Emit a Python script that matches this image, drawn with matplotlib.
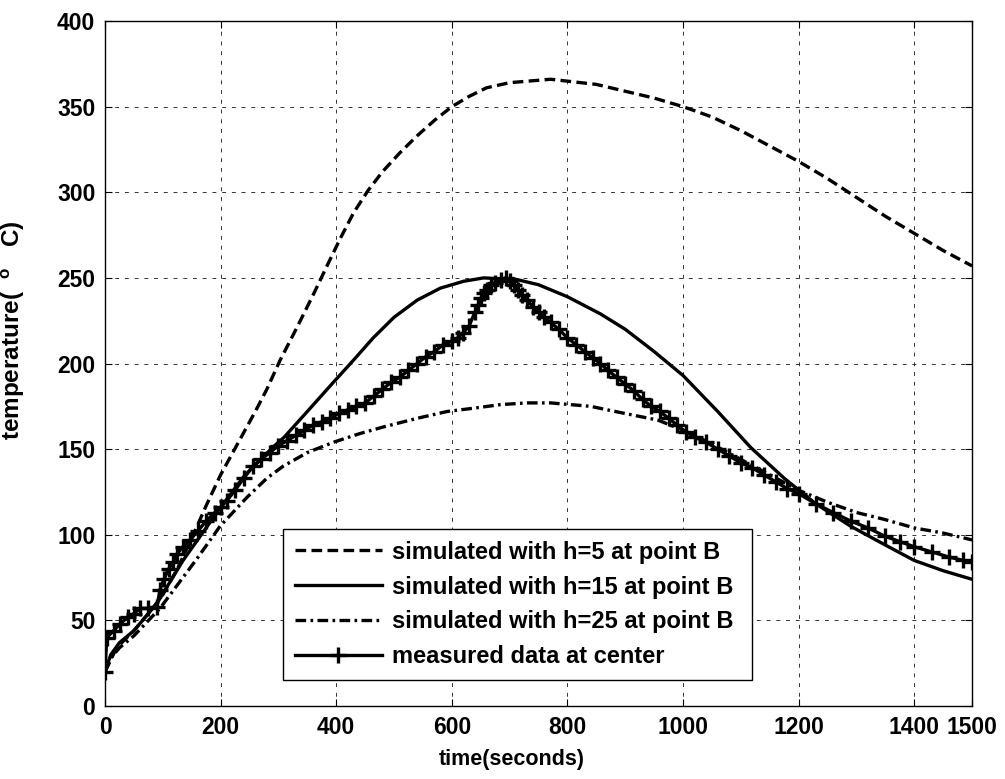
import matplotlib
matplotlib.use("Agg")
import matplotlib.pyplot as plt

plt.rcParams['font.family'] = ['Liberation Sans', 'DejaVu Sans']
plt.rcParams['mathtext.fontset'] = 'custom'
plt.rcParams['mathtext.rm'] = 'Liberation Sans:bold'
plt.rcParams['mathtext.it'] = 'Liberation Sans:bold'
plt.rcParams['mathtext.default'] = 'rm'

# simulated, h=5 at point B
t_h5 = [0, 20, 50, 80, 100, 125, 150, 175, 200, 234, 260, 280, 303, 332, 360,
        384, 407, 430, 455, 480, 510, 540, 570, 600, 630, 660, 700, 771, 797,
        850, 900, 950, 1000, 1050, 1100, 1150, 1200, 1250, 1300, 1350, 1400,
        1450, 1500]
temp_h5 = [20, 34, 44, 56, 65, 80, 98, 117, 135, 156, 172, 185, 202, 221, 240,
           257, 273, 288, 301, 312, 323, 333, 342, 350, 356, 361, 364, 366, 365,
           363, 359, 355, 350, 344, 336, 327, 318, 308, 297, 286, 276,
           266, 257]

# simulated, h=15 at point B
t_h15 = [0, 10, 25, 50, 90, 135, 200, 240, 290, 310, 350, 395, 430, 464, 500,
         540, 580, 620, 655, 713, 750, 800, 857, 900, 950, 1000, 1060, 1117,
         1175, 1230, 1290, 1350, 1400, 1450, 1500]
temp_h15 = [20, 30, 37, 44, 60, 85, 116, 134, 151, 157, 172, 189, 202, 215, 227,
            237, 244, 248, 250, 249, 246, 239, 229, 220, 207, 193, 172, 151,
            133, 118, 105, 94, 85, 79, 74]

# simulated, h=25 at point B
t_h25 = [0, 10, 25, 50, 95, 159, 199, 246, 280, 308, 350, 395, 440, 482, 540,
         592, 640, 684, 730, 771, 840, 897, 956, 1001, 1050, 1100, 1150, 1200,
         1250, 1300, 1348, 1400, 1450, 1500]
temp_h25 = [20, 28, 34, 41, 57, 86, 105, 122, 133, 140, 148, 154, 159, 163, 168,
            172, 174, 176, 177, 177, 175, 171, 167, 161, 153, 144, 135, 126,
            119, 113, 109, 104, 101, 97]

# measured data at center
t_meas = [0, 3, 15, 26, 40, 50, 61, 75, 90, 95, 102, 110, 118, 125, 135, 147,
          160, 175, 190, 200, 211, 225, 240, 256, 270, 285, 300, 315, 330, 345,
          360, 375, 390, 405, 420, 435, 450, 465, 480, 495, 510, 525, 540, 555,
          570, 585, 600, 610, 620, 630, 640, 645, 650, 655, 660, 668, 675, 685,
          693, 700, 707, 715, 722, 730, 741, 750, 760, 771, 785, 800, 815, 830,
          845, 857, 870, 885, 900, 915, 930, 945, 960, 975, 990, 1005, 1020,
          1040, 1060, 1080, 1100, 1120, 1140, 1160, 1180, 1200, 1230, 1260,
          1290, 1320, 1350, 1375, 1400, 1430, 1460, 1485, 1500]
temp_meas = [20, 40, 44, 48, 52, 54, 57, 57, 58, 68, 74, 80, 84, 89, 93, 97,
             102, 108, 113, 116, 120, 126, 133, 140, 144, 148, 152, 155, 158, 161,
             164, 166, 168, 171, 173, 175, 177, 181, 185, 189, 192, 196, 200, 204,
             207, 211, 213, 215, 218, 222, 230, 234, 238, 241, 243, 246, 247, 249,
             250, 248, 246, 243, 240, 237, 233, 230, 227, 224, 220, 215, 211, 207,
             203, 200, 196, 192, 188, 184, 179, 175, 172, 168, 164, 160, 157,
             154, 150, 146, 142, 139, 135, 131, 127, 124, 118, 113,
             108, 104, 99, 96, 93, 90, 87, 85, 84]

x_ticks = [0, 200, 400, 600, 800, 1000, 1200, 1400, 1500]
y_ticks = [0, 50, 100, 150, 200, 250, 300, 350, 400]

fig = plt.figure(figsize=(10.05, 7.79), dpi=100)
ax = fig.add_axes([0.1045, 0.0937, 0.8627, 0.8793])

lw = 2.4
ax.plot(t_h5, temp_h5, color='k', lw=lw, linestyle=(0, (3.2, 1.6)),
        label='simulated with h=5 at point B')
ax.plot(t_h15, temp_h15, color='k', lw=lw, linestyle='-',
        label='simulated with h=15 at point B')
ax.plot(t_h25, temp_h25, color='k', lw=lw, linestyle=(0, (3.2, 1.3, 0.8, 1.3)),
        label='simulated with h=25 at point B')
ax.plot(t_meas, temp_meas, color='k', lw=lw, marker='+', markersize=11,
        markeredgewidth=2.4, label='measured data at center')

ax.set_xlim(0, 1500)
ax.set_ylim(0, 400)
ax.set_xticks(x_ticks)
ax.set_yticks(y_ticks)
ax.tick_params(direction='in', length=5, width=0.8, labelsize=16.5,
               top=True, right=True, pad=7)
for lab in ax.get_xticklabels() + ax.get_yticklabels():
    lab.set_fontweight('bold')

ax.grid(True, color='0.2', linestyle=(0, (4, 6)), linewidth=0.7)
for sp in ax.spines.values():
    sp.set_linewidth(1.0)

ax.set_xlabel('time(seconds)', fontsize=15.5, fontweight='bold')
ax.xaxis.set_label_coords(0.469, -0.063)
ax.set_ylabel('temperature(  $^{o}$   C)', fontsize=17.5, fontweight='bold')
ax.yaxis.set_label_coords(-0.09, 0.548)

leg = ax.legend(loc='lower left', bbox_to_anchor=(0.205, 0.038, 0.541, 0.231),
                mode='expand', frameon=True, fancybox=False,
                edgecolor='k', framealpha=1, handlelength=3.7,
                handletextpad=0.42, labelspacing=0.5, borderaxespad=0,
                borderpad=0.5, prop={'weight': 'bold', 'size': 17})
leg.get_frame().set_linewidth(1.0)

fig.savefig('out.png', dpi=100)
